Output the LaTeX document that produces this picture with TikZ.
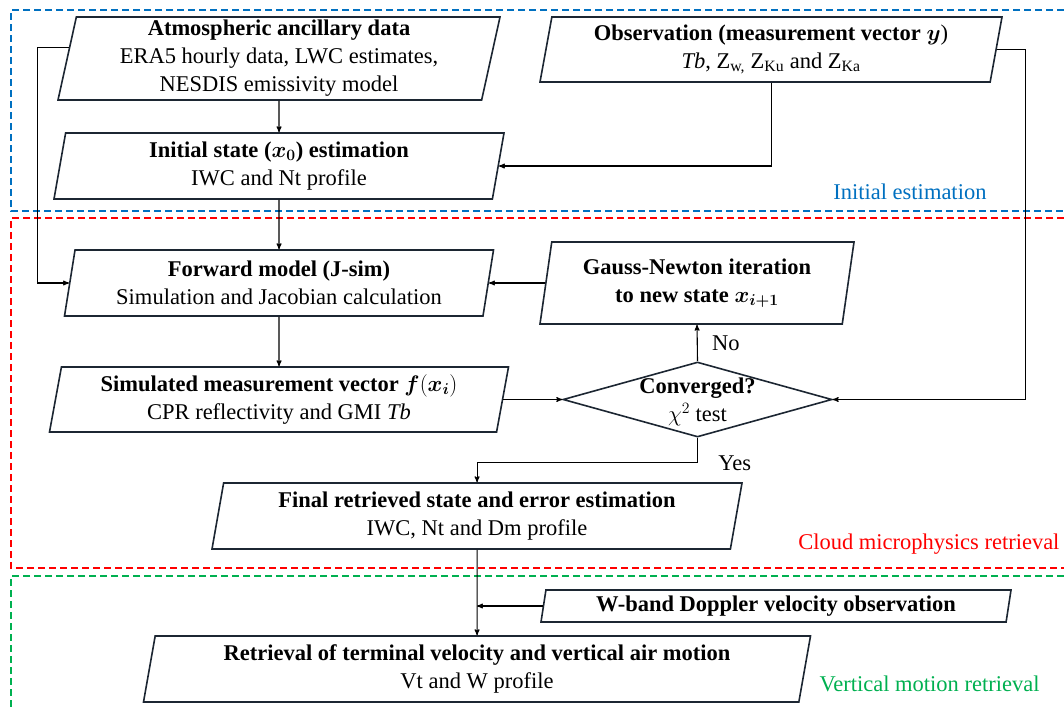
\RequirePackage{fix-cm}
\documentclass[tikz,border=0pt]{standalone}
\usepackage{amsmath,bm}
\usepackage{fontspec}
\setmainfont{Liberation Serif}
\usetikzlibrary{arrows,shapes.geometric,calc}

\definecolor{boxline}{RGB}{28,38,50}
\definecolor{iniblue}{RGB}{0,112,192}
\definecolor{cloudred}{RGB}{255,0,0}
\definecolor{vertgreen}{RGB}{0,176,80}

\begin{document}
\begin{tikzpicture}[->,>=stealth',x=1pt,y=-1pt,line width=1.1pt,
                    font=\fontsize{22.5}{28}\selectfont]
  \tikzstyle{io}=[-,trapezium,trapezium left angle=76.5,trapezium right angle=103.5,
                  trapezium stretches body,draw=boxline,line width=1.6pt,
                  inner sep=0pt,align=center]
  \tikzstyle{decision}=[-,diamond,draw=boxline,line width=1.6pt,inner sep=0pt]
  \tikzstyle{region}=[-,dash pattern=on 7pt off 4pt,line width=1.8pt]
  \useasboundingbox (0,0) rectangle (1064,710);

  % dashed regions
  \draw[region,iniblue]   (1075,10) -| (11,211) -- (1075,211);
  \draw[region,cloudred]  (1075,218) -| (11,568) -- (1075,568);
  \draw[region,vertgreen] (1075,576) -| (11,720);

  \node[anchor=east,inner sep=0pt,text=iniblue]   (lblinit)  at (987,192)  {Initial estimation};
  \node[anchor=east,inner sep=0pt,text=cloudred]  (lblcloud) at (1060,544) {Cloud microphysics retrieval};
  \node[anchor=east,inner sep=0pt,text=vertgreen] (lblvert)  at (1040,684) {Vertical motion retrieval};

  % boxes
  \node[io,minimum width=442pt,minimum height=83pt] (atm) at (279,58.5)
    {\textbf{Atmospheric ancillary data}\\ERA5 hourly data, LWC estimates,\\NESDIS emissivity model};
  \node[io,minimum width=462pt,minimum height=65pt] (obs) at (771,49.5)
    {\textbf{Observation (measurement vector $\bm{y}$})\\\textit{Tb}, Z\textsubscript{w,} Z\textsubscript{Ku} and Z\textsubscript{Ka}};
  \node[io,minimum width=450pt,minimum height=66pt] (init) at (279,166)
    {\textbf{Initial state ($\bm{x_0}$) estimation}\\IWC and Nt profile};
  \node[io,minimum width=429pt,minimum height=66pt] (fwd) at (279,283)
    {\textbf{Forward model (J-sim)}\\Simulation and Jacobian calculation};
  \node[io,minimum width=314pt,minimum height=82pt] (gauss) at (697,283)
    {\textbf{Gauss-Newton iteration}\\\textbf{to new state $\bm{x_{i+1}}$}};
  \node[io,minimum width=459pt,minimum height=65pt] (sim) at (279,399.5)
    {\textbf{Simulated measurement vector $\bm{f}(\bm{x_i})$}\\CPR reflectivity and GMI \textit{Tb}};
  \node[decision,minimum width=269pt,minimum height=75pt] (conv) at (697.5,399.5) {};
  \node[align=center,inner sep=0pt] (convtxt) at (697.5,402) {\textbf{Converged?}\\$\chi^2$ test};
  \node[io,minimum width=530pt,minimum height=66pt] (final) at (477,516)
    {\textbf{Final retrieved state and error estimation}\\IWC, Nt and Dm profile};
  \node[io,minimum width=470pt,minimum height=32pt] (wband) at (776,606)
    {\textbf{W-band Doppler velocity observation}};
  \node[io,minimum width=667pt,minimum height=66pt] (retr) at (477,669)
    {\textbf{Retrieval of terminal velocity and vertical air motion}\\Vt and W profile};

  % connectors
  \coordinate (atmL) at ($(atm.top left corner)!0.37!(atm.bottom left corner)$);
  \draw (atm.south) -- (init.north);
  \draw (obs.south) |- (init.right side);
  \draw (init.south) -- (fwd.north);
  \draw (atmL) -- ++(-31,0) |- (fwd.left side);
  \draw (gauss.left side) -- (fwd.right side);
  \draw (fwd.south) -- (sim.north);
  \draw (sim.right side) -- (conv.west);
  \draw (obs.right side) -- ++(29,0) |- (conv.east);
  \draw (conv.north) -- node[right=11pt] (nolbl) {No} (gauss.south);
  \draw (conv.south) -- ++(0,25) node[right=17pt] (yeslbl) {Yes} -| (final.north);
  \draw (final.south) -- (retr.north);
  \draw (wband.left side) -- (wband.left side -| final.south);
\end{tikzpicture}
\end{document}
